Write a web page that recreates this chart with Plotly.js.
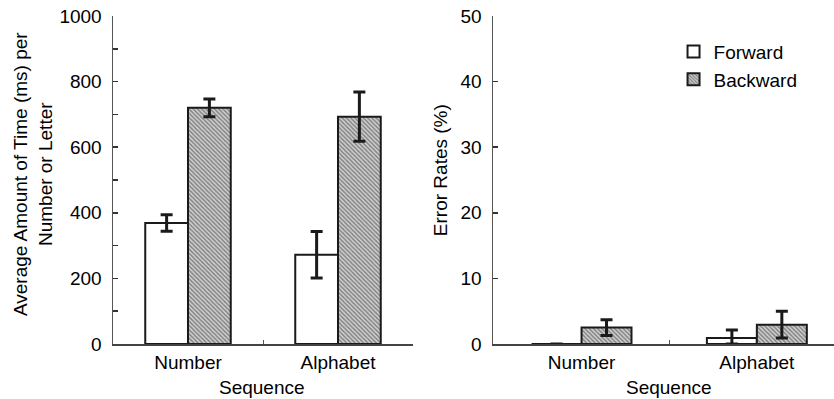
<!DOCTYPE html>
<html>
<head>
<meta charset="utf-8">
<script src="https://cdn.plot.ly/plotly-3.0.1.min.js"></script>
<style>html,body{margin:0;padding:0;background:#fff;}#chart{width:834px;height:399px;}</style>
</head>
<body>
<div id="chart"></div>
<script>
// Categories and values
const categories = ["Number", "Alphabet"];
const seriesNames = ["Forward", "Backward"];

// Left panel: average time (ms) per number or letter
const timeForward = [369, 272];
const timeForwardErr = [25, 71];
const timeBackward = [720, 693];
const timeBackwardErr = [27, 75];

// Right panel: error rates (%)
const errForward = [0, 0.9];
const errForwardErrPlus = [0, 1.25];
const errForwardErrMinus = [0, 0.9];
const errBackward = [2.5, 2.95];
const errBackwardErr = [1.2, 2.05];

// Titles
const leftYTitle = "Average Amount of Time (ms) per<br>Number or Letter";
const rightYTitle = "Error Rates (%)";
const xTitle = "Sequence";

const FONT = "Arial, 'Liberation Sans', Helvetica, sans-serif";
const INK = "#1a1a1a";
const hatch = {shape: "\\", size: 3, solidity: 0.5, fgcolor: "#333", bgcolor: "#d2d2d2", fillmode: "overlay"};

function errBar(plus, minus) {
  const e = {type: "data", array: plus, color: INK, thickness: 3, width: 6, visible: true};
  if (minus) { e.symmetric = false; e.arrayminus = minus; } else { e.symmetric = true; }
  return e;
}

const traces = [
  {type: "bar", name: seriesNames[0], x: categories, y: timeForward, xaxis: "x", yaxis: "y",
   marker: {color: "#fff", line: {color: INK, width: 2}}, error_y: errBar(timeForwardErr), showlegend: false},
  {type: "bar", name: seriesNames[1], x: categories, y: timeBackward, xaxis: "x", yaxis: "y",
   marker: {color: "#bbb", pattern: hatch, line: {color: INK, width: 2}}, error_y: errBar(timeBackwardErr), showlegend: false},
  {type: "bar", name: seriesNames[0], x: categories, y: errForward, xaxis: "x2", yaxis: "y2",
   marker: {color: "#fff", line: {color: INK, width: 2}}, error_y: errBar(errForwardErrPlus, errForwardErrMinus)},
  {type: "bar", name: seriesNames[1], x: categories, y: errBackward, xaxis: "x2", yaxis: "y2",
   marker: {color: "#bbb", pattern: hatch, line: {color: INK, width: 2}}, error_y: errBar(errBackwardErr)}
];

const axisFont = {family: FONT, size: 19, color: "#000"};

const xCommon = {
  type: "category", showline: true, linecolor: "#444", linewidth: 2,
  ticks: "inside", tickson: "boundaries", ticklen: 4, tickcolor: "#555", tickwidth: 1,
  showgrid: false, zeroline: false, tickfont: axisFont, ticklabelstandoff: 0
};
const yCommon = {
  showline: true, linecolor: "#555", linewidth: 1.5, ticks: "inside", ticklen: 5,
  tickcolor: "#333", tickwidth: 1.5, showgrid: false, zeroline: false, tickfont: axisFont,
  ticklabelstandoff: 6
};

const titleAnn = (text, x, y, angle) => ({
  text: text, xref: "paper", yref: "paper", x: x, y: y, xanchor: "center", yanchor: "middle",
  showarrow: false, textangle: angle, font: axisFont
});

const layout = {
  width: 834, height: 399,
  margin: {l: 0, r: 0, t: 16, b: 55},
  paper_bgcolor: "#fff", plot_bgcolor: "#fff",
  font: {family: FONT, size: 19, color: "#000"},
  barmode: "group", bargap: 0.43, bargroupgap: 0,
  showlegend: true,
  legend: {x: 0.8076, y: 0.949, xanchor: "left", yanchor: "top", font: axisFont,
           bgcolor: "rgba(0,0,0,0)"},
  xaxis: Object.assign({}, xCommon, {domain: [113/834, 413/834], range: [-0.5, 1.5], anchor: "y"}),
  yaxis: Object.assign({}, yCommon, {domain: [0, 1], range: [0, 1000], dtick: 200, anchor: "x",
          minor: {dtick: 100, ticks: "inside", ticklen: 5, tickcolor: "#333", tickwidth: 1.5}}),
  xaxis2: Object.assign({}, xCommon, {domain: [493/834, 1], range: [-0.505, 1.44], anchor: "y2"}),
  yaxis2: Object.assign({}, yCommon, {domain: [0, 1], range: [0, 50], dtick: 10, anchor: "x2"}),
  annotations: [
    titleAnn(leftYTitle, 33/834, 0.518, -90),
    titleAnn(rightYTitle, 440/834, 0.53, -90),
    titleAnn(xTitle, 262/834, -0.133, 0),
    titleAnn(xTitle, 669/834, -0.133, 0)
  ]
};

Plotly.newPlot("chart", traces, layout, {displayModeBar: false, staticPlot: true});
</script>
</body>
</html>
